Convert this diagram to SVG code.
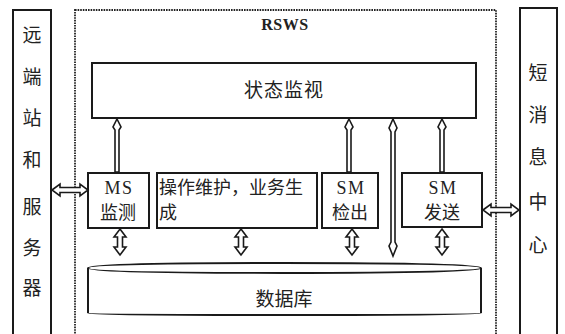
<svg xmlns="http://www.w3.org/2000/svg" xmlns:xlink="http://www.w3.org/1999/xlink" width="565" height="334" viewBox="0 0 565 334">
<style>
.box{fill:#fff;stroke:#1a1a1a;stroke-width:2}
.dash{fill:none;stroke:#222;stroke-width:1.8;stroke-dasharray:1.6 1}
.arr{fill:#fff;stroke:#1a1a1a;stroke-width:1.6;stroke-linejoin:miter}
.t{font-family:"Liberation Serif","Noto Sans CJK SC",serif;font-size:18px;fill:#222;text-anchor:middle;letter-spacing:1.5px}
.cj{font-family:"Noto Sans CJK SC",sans-serif;font-size:18px;fill:#222;text-anchor:middle}
.v{font-family:"Noto Sans CJK SC",sans-serif;font-size:19px;fill:#222;text-anchor:middle}
</style>
<defs>
<path id="hv" d="M0,0 L6,8 L2.5,8 L2.5,18 L6,18 L0,26 L-6,18 L-2.5,18 L-2.5,8 L-6,8 Z"/>
<path id="hh" d="M0,0 L8,-6 L8,-2.5 L28,-2.5 L28,-6 L36,0 L28,6 L28,2.5 L8,2.5 L8,6 Z"/>
</defs>
<rect width="565" height="334" fill="#fff"/>
<rect x="75" y="10" width="421" height="340" class="dash"/>
<text x="285" y="30" class="t" style="font-weight:bold;font-size:16px;letter-spacing:0.5px">RSWS</text>
<g id="remote">
<rect x="13" y="10" width="38" height="340" class="box"/>
<text class="v" x="32" y="42">远</text>
<text class="v" x="32" y="84">端</text>
<text class="v" x="32" y="125">站</text>
<text class="v" x="32" y="167">和</text>
<text class="v" x="32" y="214">服</text>
<text class="v" x="32" y="255">务</text>
<text class="v" x="32" y="295">器</text>
</g>
<g id="smsc">
<rect x="520" y="8" width="37" height="340" class="box"/>
<text class="v" x="538" y="80">短</text>
<text class="v" x="538" y="122">消</text>
<text class="v" x="538" y="164">息</text>
<text class="v" x="538" y="209">中</text>
<text class="v" x="538" y="252">心</text>
</g>
<g id="monitor">
<rect x="92" y="63" width="384" height="55" class="box"/>
<text class="cj" x="284" y="97" style="font-size:19px;letter-spacing:1px">状态监视</text>
</g>
<g id="ms">
<rect x="88" y="173" width="61" height="55" class="box"/>
<text class="t" x="119" y="194">MS</text>
<text class="cj" x="118" y="219">监测</text>
</g>
<g id="om">
<rect x="157" y="173" width="160" height="55" class="box"/>
<text class="cj" x="159" y="194" style="text-anchor:start">操作维护，业务生</text>
<text class="cj" x="159" y="219" style="text-anchor:start">成</text>
</g>
<g id="smdet">
<rect x="322" y="173" width="56" height="55" class="box"/>
<text class="t" x="351" y="194">SM</text>
<text class="cj" x="350" y="219">检出</text>
</g>
<g id="smsend">
<rect x="402" y="173" width="80" height="54" class="box"/>
<text class="t" x="443" y="194">SM</text>
<text class="cj" x="442" y="219">发送</text>
</g>
<g id="db">
<path class="box" d="M88,268 Q88,263 284,263 Q481,263 481,268 L481,313 Q481,315 284,315 Q88,315 88,313 Z"/>
<path d="M88,268 Q88,273 284,273 Q481,273 481,268" fill="none" stroke="#1a1a1a" stroke-width="1.8"/>
<text class="cj" x="284" y="306" style="font-size:19px">数据库</text>
</g>
<g id="connectors">
<path class="arr" d="M117,119 L121,127 L119,130 L119,172 L115,172 L115,130 L113,127 Z"/>
<path class="arr" d="M349,119 L353,127 L351,130 L351,172 L347,172 L347,130 L345,127 Z"/>
<path class="arr" d="M442,119 L446,127 L444,130 L444,172 L440,172 L440,130 L438,127 Z"/>
<path class="arr" d="M393,119 L397,128 L395,132 L395,242 L397,246 L393,256 L389,246 L391,242 L391,132 L389,128 Z"/>
<use href="#hv" class="arr" x="120" y="229"/>
<use href="#hv" class="arr" x="241" y="229"/>
<use href="#hv" class="arr" x="352" y="229"/>
<use href="#hv" class="arr" x="442" y="229"/>
<use href="#hh" class="arr" x="52" y="190"/>
<use href="#hh" class="arr" x="483" y="210"/>
</g>
</svg>
